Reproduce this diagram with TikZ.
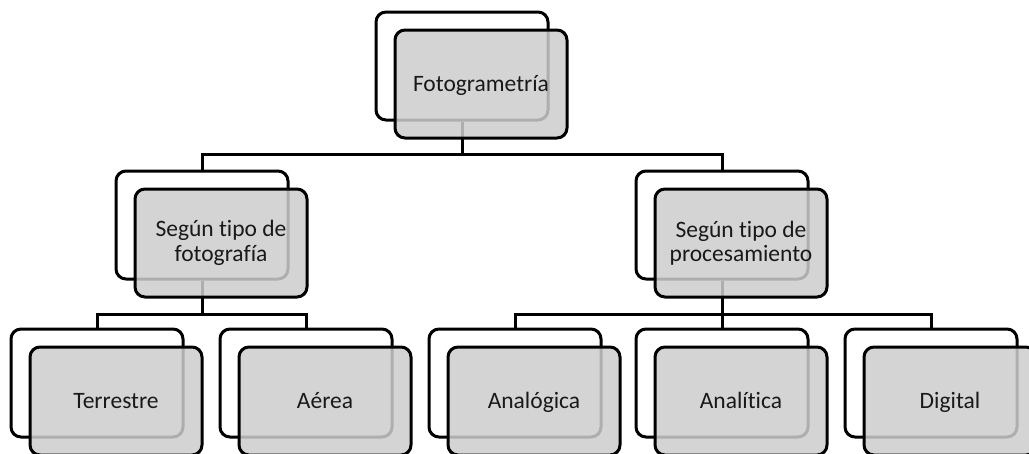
\documentclass[tikz,border=0pt]{standalone}
\usepackage{fontspec}
\setmainfont{Carlito}[Ligatures=NoCommon,RawFeature=-liga;-dlig;-clig]
\definecolor{frontgray}{RGB}{205,205,205}
\definecolor{textcol}{RGB}{25,25,25}
\begin{document}
\begin{tikzpicture}[x=1pt,y=-1pt,
  backbox/.style={draw=black, line width=3pt, rounded corners=10pt, fill=white,
    minimum width=172pt, minimum height=108pt, inner sep=0pt},
  frontbox/.style={draw=black, line width=3pt, rounded corners=10pt, fill=frontgray,
    fill opacity=0.85, text opacity=1, minimum width=172pt, minimum height=108pt,
    inner sep=0pt, align=center, font=\fontsize{23.5}{24.5}\selectfont, text=textcol},
  oneline/.style={text height=18pt, text depth=4pt},
  conn/.style={line width=3pt, draw=black}]
\useasboundingbox (0,0) rectangle (1029,453);
\clip (0,0) rectangle (1029,453);
% back boxes
\node[backbox] (topb) at (462,66) {};
\node[backbox] (l2ab) at (202,225) {};
\node[backbox] (l2bb) at (722,225) {};
\node[backbox] (ab) at (97,383) {};
\node[backbox] (bb) at (306,383) {};
\node[backbox] (cb) at (515,383) {};
\node[backbox] (db) at (722,383) {};
\node[backbox] (eb) at (931,383) {};
% junction levels
\coordinate (j1) at (0,154);
\coordinate (j2) at (0,314);
% connectors
\draw[conn] (topb.south) -- (topb.south |- j1) -| (l2ab.north);
\draw[conn] (topb.south |- j1) -| (l2bb.north);
\draw[conn] (l2ab.south) -- (l2ab.south |- j2) -| (ab.north);
\draw[conn] (l2ab.south |- j2) -| (bb.north);
\draw[conn] (l2bb.south) -- (db.north);
\draw[conn] (l2bb.south |- j2) -| (cb.north);
\draw[conn] (l2bb.south |- j2) -| (eb.north);
% front boxes
\node[frontbox, oneline] (top) at (481,84) {Fotogrametría};
\node[frontbox] (l2a) at (221,243) {Según tipo de\\fotografía};
\node[frontbox] (l2b) at (741,243) {Según tipo de\\procesamiento};
\node[frontbox, oneline] (a) at (116,401) {Terrestre};
\node[frontbox, oneline] (b) at (325,401) {Aérea};
\node[frontbox, oneline] (c) at (534,401) {Analógica};
\node[frontbox, oneline] (d) at (741,401) {Analítica};
\node[frontbox, oneline] (e) at (950,401) {Digital};
\end{tikzpicture}
\end{document}
